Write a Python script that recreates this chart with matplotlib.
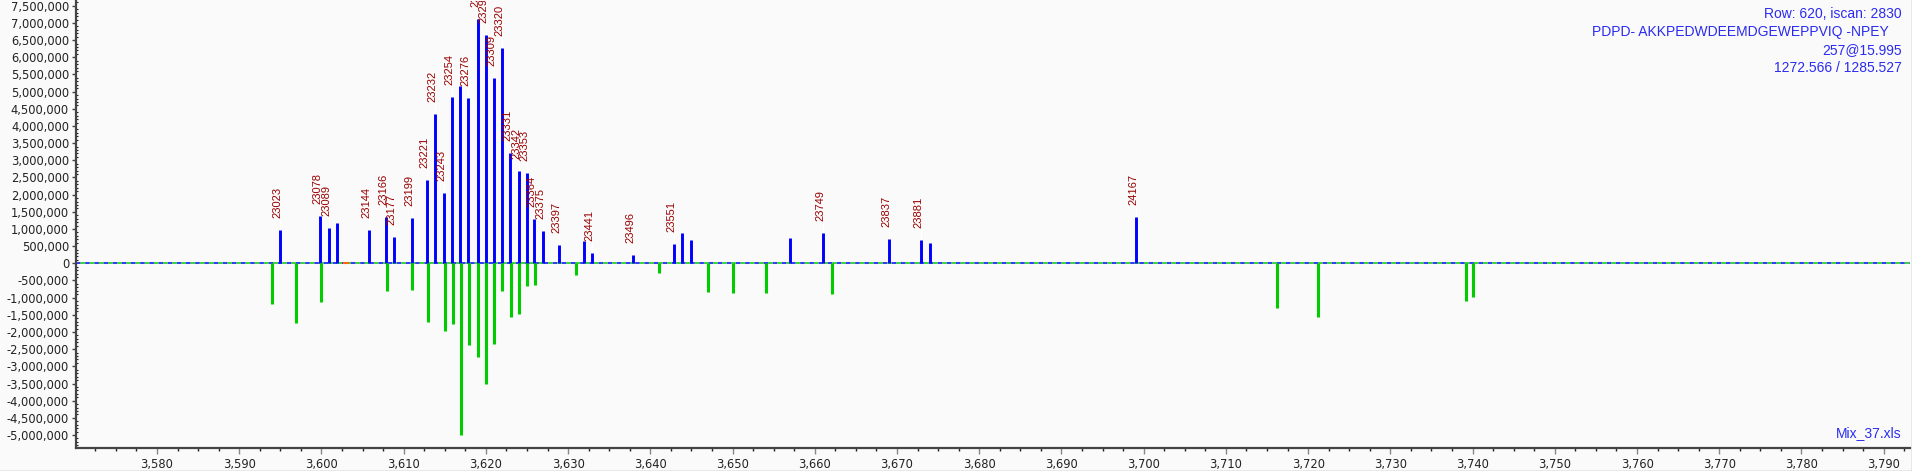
import matplotlib
matplotlib.use("Agg")
import matplotlib.pyplot as plt
from matplotlib.ticker import MultipleLocator, FuncFormatter
from matplotlib.lines import Line2D

# positive peaks (blue), m/z and intensity in millions
blue_mz = [3594.9, 3599.86, 3600.9, 3601.9, 3605.8, 3607.9, 3608.85, 3610.97,
           3612.87, 3613.84, 3614.94, 3615.9, 3616.9, 3617.85, 3619.0, 3619.97,
           3620.94, 3621.9, 3622.96, 3623.98, 3624.95, 3625.88, 3626.9, 3628.9,
           3631.96, 3632.9, 3637.9, 3642.9, 3643.9, 3644.93, 3656.97, 3661.0,
           3668.97, 3672.94, 3674.03, 3699.04]
blue_int_m = [0.97, 1.38, 1.02, 1.17, 0.97, 1.36, 0.78, 1.33,
              2.44, 4.36, 2.04, 4.85, 5.15, 4.81, 7.11, 6.66,
              5.41, 6.28, 3.22, 2.70, 2.62, 1.28, 0.94, 0.52,
              0.65, 0.29, 0.23, 0.55, 0.88, 0.68, 0.74, 0.87,
              0.70, 0.68, 0.59, 1.34]
blue_labels = ["23023", "23078", "23089", "", "23144", "23166", "23177", "23199",
               "23221", "23232", "23243", "23254", "", "23276", "23287", "23298",
               "23309", "23320", "23331", "23342", "23353", "23364", "23375", "23397",
               "", "23441", "23496", "23551", "", "", "", "23749",
               "23837", "23881", "", "24167"]

# negative peaks (green)
green_mz = [3594.0, 3596.94, 3599.98, 3608.0, 3611.04, 3613.0, 3615.06, 3616.03,
            3617.0, 3617.97, 3619.07, 3620.04, 3621.01, 3621.99, 3623.08, 3624.05,
            3625.02, 3626.0, 3631.0, 3641.08, 3647.04, 3650.08, 3654.09, 3662.1,
            3716.2, 3721.2, 3739.2, 3740.1]
green_int_m = [-1.17, -1.73, -1.14, -0.80, -0.77, -1.70, -1.96, -1.78,
               -5.01, -2.37, -2.74, -3.50, -2.34, -0.82, -1.55, -1.49,
               -0.65, -0.62, -0.33, -0.28, -0.83, -0.86, -0.86, -0.88,
               -1.29, -1.55, -1.09, -0.97]

zero_mz = [3603.0]

info_lines = ["Row: 620, iscan: 2830",
              "PDPD- AKKPEDWDEEMDGEWEPPVIQ -NPEY",
              "257@15.995",
              "1272.566 / 1285.527"]
file_name = "Mix_37.xls"

blue_int = [v * 1e6 for v in blue_int_m]
green_int = [v * 1e6 for v in green_int_m]

bg = "#fafafa"
x0, x1 = 3570.15, 3793.2
fig = plt.figure(figsize=(19.12, 4.71), dpi=100, facecolor=bg)
ax = fig.add_axes([76 / 1912, 1 - 448.3 / 471, (1910 - 76) / 1912, (448.3 - 1) / 471])
ax.set_facecolor(bg)

ax.set_xlim(x0, x1)
ax.set_ylim(-5.387e6, 7.64e6)

# zero line: alternating blue / green dashes
ax.plot([x0, x1], [0, 0], color="#0000ff", lw=1.1, ls=(0, (3, 3)),
        dash_capstyle="butt", zorder=1)
ax.plot([x0, x1], [0, 0], color="#00cc00", lw=1.1, ls=(3, (3, 3)),
        dash_capstyle="butt", zorder=1.1)

ax.plot(zero_mz, [0] * len(zero_mz), marker="_", ms=5, mew=1.5,
        color="#ff6600", ls="none", zorder=2)

ax.vlines(blue_mz, 0, blue_int, color="#0000ff", lw=2.1, capstyle="butt", zorder=3)
ax.vlines(green_mz, 0, green_int, color="#00cc00", lw=2.2, capstyle="butt", zorder=3)

# peak labels, 12 px above the bar top
px = (7.64e6 + 5.387e6) / 447.3
for x, y, lab in zip(blue_mz, blue_int, blue_labels):
    if not lab:
        continue
    ax.vlines(x, y, y + 11 * px, color="white", lw=0.8, zorder=2)
    ax.text(x - 0.3, y + 12 * px, lab, rotation=90, ha="center", va="bottom",
            fontsize=8, family="Liberation Sans", color="#990000",
            clip_on=True, zorder=4)

# info text
for i, line in enumerate(info_lines):
    dx = -13 if i == 1 else 0
    ax.annotate(line, xy=(1, 1), xycoords="axes fraction",
                xytext=(-8.5 + dx, -13 - 18 * i), textcoords="offset pixels",
                ha="right", va="center", fontsize=10, family="Liberation Sans",
                color="#2b2bf0")
ax.annotate(file_name, xy=(1, 0), xycoords="axes fraction",
            xytext=(-8.5, 15), textcoords="offset pixels",
            ha="right", va="center", fontsize=10, family="Liberation Sans",
            color="#2b2bf0")

# axes styling
for s in ["top", "right"]:
    ax.spines[s].set_visible(False)
for s in ["left", "bottom"]:
    ax.spines[s].set_color("#444444")
    ax.spines[s].set_linewidth(1.6)

ax.xaxis.set_major_locator(MultipleLocator(10))
ax.xaxis.set_minor_locator(MultipleLocator(2.5))
ax.yaxis.set_major_locator(MultipleLocator(500000))
ax.yaxis.set_minor_locator(MultipleLocator(100000))
fmt = FuncFormatter(lambda v, p: f"{v:,.0f}")
ax.xaxis.set_major_formatter(fmt)
ax.yaxis.set_major_formatter(fmt)

ax.tick_params(axis="x", which="major", length=4, width=1, color="#888888",
               pad=3, labelsize=8.3, labelcolor="#222222")
ax.tick_params(axis="x", which="minor", length=2, width=1, color="#222222")
ax.tick_params(axis="y", which="major", length=3, width=1, color="#444444",
               pad=2, labelsize=8.3, labelcolor="#222222")
ax.tick_params(axis="y", which="minor", length=1.5, width=0.8, color="#222222",
               direction="in")

# image border (bottom and right)
fig.add_artist(Line2D([0, 1], [0.5 / 471, 0.5 / 471], color="#a0a0a0", lw=1))
fig.add_artist(Line2D([1 - 0.5 / 1912, 1 - 0.5 / 1912], [0, 1], color="#a0a0a0", lw=1))

fig.savefig("out.png", dpi=100, facecolor=bg)
